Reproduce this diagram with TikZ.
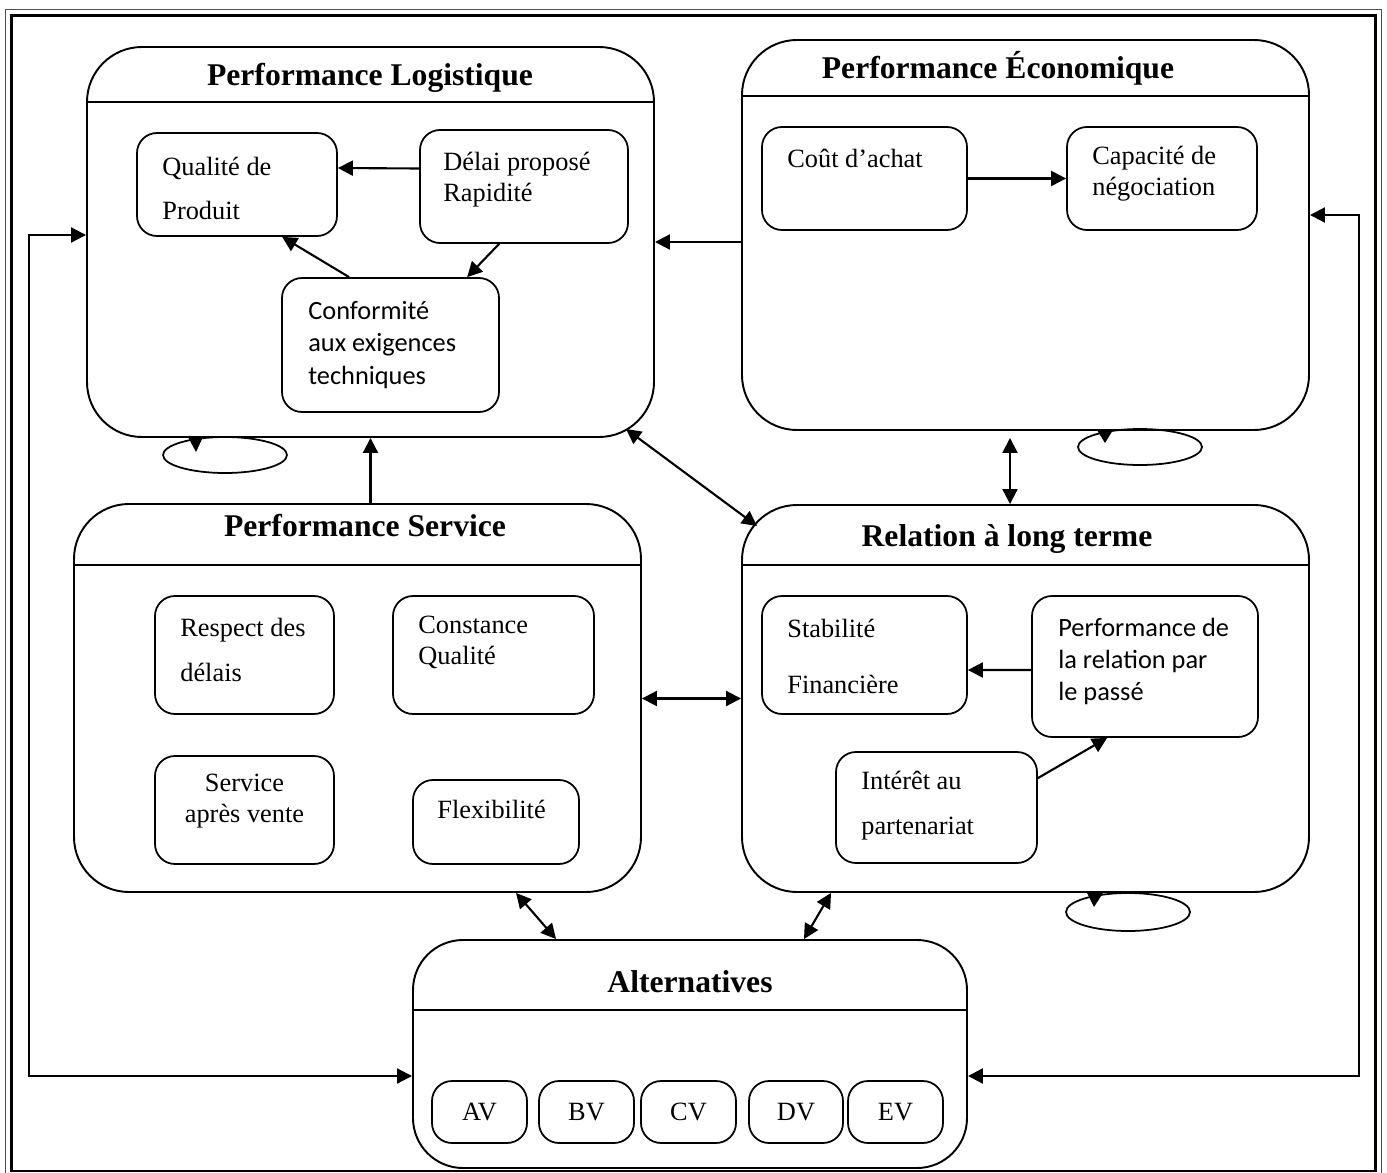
\documentclass[tikz,border=0pt]{standalone}
\usepackage{fontspec}
\setmainfont{Liberation Serif}
\newfontfamily\calibri{Carlito}
\usetikzlibrary{arrows.meta,fit,calc,shapes.geometric}

\begin{document}
\begin{tikzpicture}[x=0.02cm,y=-0.02cm,
  bigbox/.style={draw, line width=1.1pt, rounded corners=1.1cm, inner sep=0pt},
  ibox/.style={draw, line width=1pt, rounded corners=0.4cm, inner sep=0pt},
  ttl/.style={font=\fontsize{18}{22}\selectfont\bfseries, inner sep=0pt},
  txt/.style={font=\fontsize{15}{17.6}\selectfont, align=left, inner sep=0pt, anchor=west},
  ctxt/.style={font=\fontsize{15}{17.6}\selectfont, align=center, inner sep=0pt},
  stxt/.style={font=\calibri\fontsize{15}{18.4}\selectfont, align=left, inner sep=0pt, anchor=west},
  hline/.style={line width=1.1pt},
  tip/.style={Triangle[length=0.3cm,width=0.3cm]},
  arr/.style={line width=1.2pt, -{Triangle[length=0.3cm,width=0.3cm]}},
  darr/.style={line width=1.2pt, {Triangle[length=0.3cm,width=0.3cm]}-{Triangle[length=0.3cm,width=0.3cm]}},
  loopring/.style={draw, ellipse, line width=1pt, minimum width=2.48cm, minimum height=0.72cm, inner sep=0pt},
]
\useasboundingbox (0,0) rectangle (1387,1173);
\fill[white] (0,0) rectangle (1387,1173);

% page frame (thin outer line, thick inner line)
\draw[line width=0.5pt, black!70] (5.5,9.5) rectangle (1381.5,1190);
\draw[line width=1.5pt] (11.5,15.5) rectangle (1375.5,1171);

% ---------- Performance Logistique ----------
\node[bigbox, fit={(87,47) (654,437)}] (logi) {};
\draw[hline] (87,102) -- (654,102);
\node[ttl] (logiT) at (370,78) {Performance Logistique};
\node[ibox, fit={(137,133) (337,236)}] (qual) {};
\node[txt] (qualT) at (162,188.5) {Qualité de\\[7.9pt]Produit};
\node[ibox, fit={(420,130) (628,243)}] (delai) {};
\node[txt] (delaiT) at (443,180) {Délai proposé\\Rapidité};
\node[ibox, fit={(282,278) (499,412)}] (conf) {};
\node[stxt] (confT) at (308,345) {Conformité\\aux exigences\\techniques};

\draw[arr] ([yshift=0.36cm]delai.west) -- ([yshift=0.33cm]qual.east);
\draw[arr] ($(conf.north west)+(68,0)$) -- ($(qual.south west)+(146,0)$);
\draw[arr] ($(delai.south west)+(80,0)$) -- ($(conf.north west)+(186,0)$);

% ---------- Performance Économique ----------
\node[bigbox, fit={(742,40) (1309,430)}] (econ) {};
\draw[hline] (742,96) -- (1309,96);
\node[ttl] (econT) at (998,68) {Performance Économique};
\node[ibox, fit={(762,127) (967,230)}] (cout) {};
\node[txt] (coutT) at (787,158) {Coût d’achat};
\node[ibox, fit={(1067,127) (1257,230)}] (capa) {};
\node[txt] (capaT) at (1092,173.5) {Capacité de\\négociation};

\draw[arr] (cout.east) -- (capa.west);

% ---------- Performance Service ----------
\node[bigbox, fit={(74,504) (641,892)}] (serv) {};
\draw[hline] (74,565) -- (641,565);
\node[ttl] (servT) at (365,526) {Performance Service};
\node[ibox, fit={(155,596) (334,714)}] (resp) {};
\node[txt] (respT) at (180,650) {Respect des\\[8.5pt]délais};
\node[ibox, fit={(393,596) (594,714)}] (cons) {};
\node[txt] (consT) at (418,642.5) {Constance\\Qualité};
\node[ibox, fit={(155,756) (334,864)}] (sav) {};
\node[ctxt] (savT) at (244.5,801) {Service\\après vente};
\node[ibox, fit={(413,780) (579,864)}] (flex) {};
\node[txt] (flexT) at (437,809) {Flexibilité};

% ---------- Relation à long terme ----------
\node[bigbox, fit={(742,505) (1309,892)}] (rel) {};
\draw[hline] (742,565) -- (1309,565);
\node[ttl] (relT) at (1007,539) {Relation à long terme};
\node[ibox, fit={(762,596) (967,714)}] (stab) {};
\node[txt] (stabT) at (787,656.5) {Stabilité\\[14.7pt]Financière};
\node[ibox, fit={(1032,596) (1258,737)}] (perf) {};
\node[stxt] (perfT) at (1058,661.5) {Performance de\\la relation par\\le passé};
\node[ibox, fit={(836,752) (1037,863)}] (inter) {};
\node[txt] (interT) at (861,805.5) {Intérêt au\\[8pt]partenariat};

\draw[arr] ([yshift=-0.07cm]perf.west) -- ([yshift=-0.3cm]stab.east);
\draw[arr] ($(inter.north east)+(0,27)$) -- ($(perf.south west)+(76,0)$);

% ---------- Alternatives ----------
\node[bigbox, rounded corners=1cm, fit={(413,940) (967,1168)}] (alt) {};
\draw[hline] (413,1010) -- (967,1010);
\node[ttl] (altT) at (690,982) {Alternatives};
\node[ibox, font=\fontsize{15}{17.6}\selectfont, fit={(432,1081) (527,1143)}] (av) {};
\node[ctxt] (avT) at (av) {AV};
\node[ibox, fit={(539,1081) (634,1143)}] (bv) {};
\node[ctxt] (bvT) at (bv) {BV};
\node[ibox, fit={(641,1081) (736,1143)}] (cv) {};
\node[ctxt] (cvT) at (cv) {CV};
\node[ibox, fit={(749,1081) (843,1143)}] (dv) {};
\node[ctxt] (dvT) at (dv) {DV};
\node[ibox, fit={(848,1081) (943,1143)}] (ev) {};
\node[ctxt] (evT) at (ev) {EV};

% ---------- self loops ----------
\node[loopring] (loopL) at (225,455) {};
\fill (188,437) -- (203,437) -- (196,452) -- cycle;
\node[loopring] (loopE) at (1140,447) {};
\fill (1097,430) -- (1113,430) -- (1105,443) -- cycle;
\node[loopring, minimum height=0.76cm] (loopR) at (1128,912) {};
\fill (1087,893) -- (1103,893) -- (1094,907) -- cycle;

% ---------- links between the blocks ----------
\draw[arr] (econ.west |- logi.east) -- (logi.east);
\draw[arr] (serv.north -| logi.south) -- (logi.south);
\draw[darr] ($(logi.south east)+(-29,-9)$) -- ($(rel.north west)+(16,22)$);
\draw[darr] ([xshift=-0.31cm,yshift=-0.14cm]econ.south) -- ([xshift=-0.31cm]rel.north);
\draw[darr] (serv.east |- rel.west) -- (rel.west);
\draw[darr] ($(serv.south west)+(443,0)$) -- ($(alt.north west)+(144,0)$);
\draw[darr] ($(rel.south west)+(90,0)$) -- ($(alt.north east)+(-164,0)$);

% outer feedback rails
\coordinate (railL) at (29,650);
\coordinate (railR) at (1359,650);
\draw[darr] ([yshift=0.14cm]logi.west) -| (railL) |- ([yshift=-0.44cm]alt.west);
\draw[darr] ([yshift=0.4cm]econ.east) -| (railR) |- ([yshift=-0.44cm]alt.east);
\end{tikzpicture}
\end{document}
